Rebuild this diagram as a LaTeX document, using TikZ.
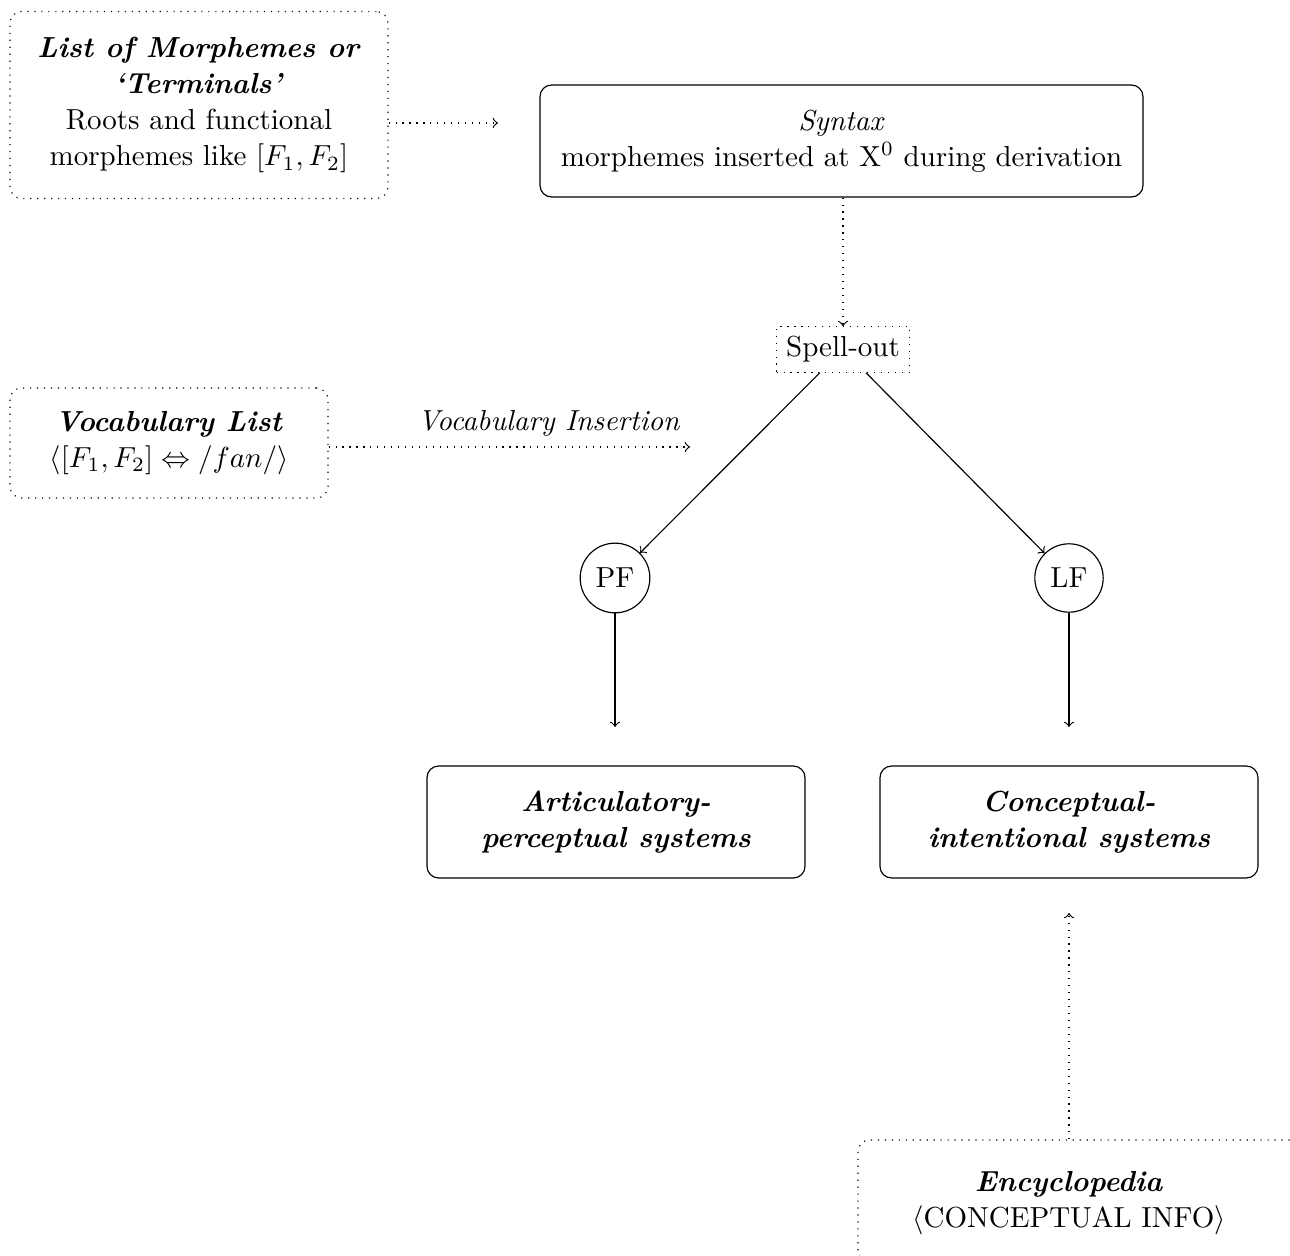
\documentclass[tikz,border=0pt]{standalone}
\newcommand\pxu{0.345pt}
\begin{document}
\begin{tikzpicture}[x=\pxu, y=-\pxu,
  dotbox/.style={draw, dotted, rounded corners, align=center, inner sep=0pt, font=\linespread{1.04}\selectfont},
  solidbox/.style={draw, rounded corners, align=center, inner sep=0pt, font=\linespread{1.04}\selectfont},
  dotarrow/.style={dotted, ->},
  solidarrow/.style={->},
  phase/.style={draw, circle}]
\useasboundingbox (0,0) rectangle (1290,1256);

% boxes
\node[dotbox, minimum width={378*\pxu}, minimum height={187*\pxu}] (list) at (199,105)
  {\textbf{\textit{List of Morphemes or}}\\ \textbf{\textit{`Terminals'}}\\ Roots and functional\\ morphemes like $[F_1,F_2]$};
\node[solidbox, minimum width={603*\pxu}, minimum height={112*\pxu}] (syntax) at (841.5,141)
  {\textit{Syntax}\\ morphemes inserted at X$^0$ during derivation};
\node[draw, dotted] (spell) at (843,349.5) {Spell-out};
\node[dotbox, minimum width={318*\pxu}, minimum height={110*\pxu}] (vocab) at (169,443)
  {\textbf{\textit{Vocabulary List}}\\ $\langle[F_1,F_2]\Leftrightarrow/fan/\rangle$};
\node[phase] (pf) at (615,578) {PF};
\node[phase] (lf) at (1069,578) {LF};
\node[solidbox, minimum width={378*\pxu}, minimum height={112*\pxu}] (artic) at (616,822)
  {\textbf{\textit{Articulatory-}}\\ \textbf{\textit{perceptual systems}}};
\node[solidbox, minimum width={378*\pxu}, minimum height={112*\pxu}] (concept) at (1069,822)
  {\textbf{\textit{Conceptual-}}\\ \textbf{\textit{intentional systems}}};
\node[dotbox, minimum width={464*\pxu}, minimum height={122*\pxu}] (encbox) at (1090,1201) {};
\node[align=center, font=\linespread{1.04}\selectfont] (enc) at (1069,1203)
  {\textbf{\textit{Encyclopedia}}\\ $\langle$CONCEPTUAL INFO$\rangle$};

% free ends
\coordinate (listend) at (498,123);
\coordinate (vocend) at (690,447);
\coordinate (pfend) at (615,727);
\coordinate (lfend) at (1069,727);
\coordinate (encend) at (1069,913);

% connectors
\draw[dotarrow] (list.east |- listend) -- (listend);
\draw[dotarrow] (syntax.south -| spell.north) -- (spell.north);
\draw[dotarrow] (vocab.east |- vocend) -- node[above, pos=0.61] {\textit{Vocabulary Insertion}} (vocend);
\draw[solidarrow] (spell) -- (pf);
\draw[solidarrow] (spell) -- (lf);
\draw[solidarrow] (pf) -- (pfend);
\draw[solidarrow] (lf) -- (lfend);
\draw[dotarrow] (encbox.north -| enc) -- (encend);
\end{tikzpicture}
\end{document}
